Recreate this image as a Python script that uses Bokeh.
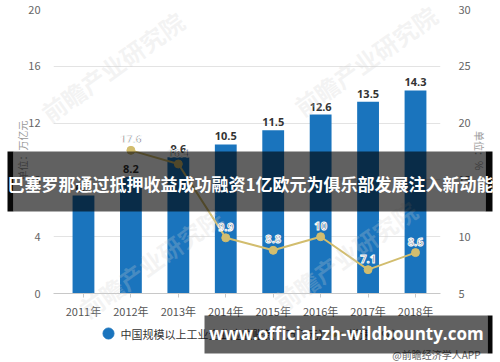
from bokeh.plotting import figure
from bokeh.models import Range1d, LinearAxis, FixedTicker, ColumnDataSource, Column
from bokeh.core.properties import value
from bokeh.embed import file_html
from bokeh.resources import INLINE
import math

# ---- data ----
years = ["2011年", "2012年", "2013年", "2014年", "2015年", "2016年", "2017年", "2018年"]
receivables = [6.9, 8.2, 9.6, 10.5, 11.5, 12.6, 13.5, 14.3]          # 万亿元
growth_years = ["2012年", "2013年", "2014年", "2015年", "2016年", "2017年", "2018年"]
growth = [17.6, 16.4, 9.9, 8.8, 10.0, 7.1, 8.6]                      # %
left_ticks = [0, 4, 8, 12, 16, 20]
right_ticks = [5, 10, 15, 20, 25, 30]

series_name_1 = "中国规模以上工业企业应收账款（万亿元）"
series_name_2 = "增速（%）"
left_unit = "单位：万亿元"
right_unit = "单位：%"
headline = "巴塞罗那通过抵押收益成功融资1亿欧元为俱乐部发展注入新动能"
url_text = "www.official-zh-wildbounty.com"
source_text = "@前瞻经济学人APP"
watermark = "前瞻产业研究院"

BAR = "#1a74bd"
LINE = "#d2bd6e"
CJK = "Noto Sans CJK SC"
W, H = 500, 362

xs = list(range(len(years)))
gx = [years.index(y) for y in growth_years]

# ================= main chart =================
p = figure(width=W, height=H, output_backend="svg", toolbar_location=None,
           x_range=Range1d(-0.632, 7.527), y_range=Range1d(0, 20),
           min_border_left=53, min_border_right=60, min_border_top=9,
           min_border_bottom=69, outline_line_color=None, frame_align=False,
           styles={"flex-shrink": "0"})
p.extra_y_ranges = {"g": Range1d(5, 30)}

p.xgrid.grid_line_color = None
p.ygrid.ticker = FixedTicker(ticks=left_ticks)
p.ygrid.grid_line_color = "#e3e3e3"

xa = p.xaxis[0]
xa.ticker = FixedTicker(ticks=xs)
xa.major_label_overrides = {i: years[i] for i in xs}
xa.axis_line_color = "#c8c8c8"
xa.major_tick_line_color = "#c8c8c8"
xa.major_tick_out = 4
xa.major_tick_in = 0
xa.minor_tick_line_color = None
xa.major_label_text_font = CJK
xa.major_label_text_font_size = "11px"
xa.major_label_text_color = "#555555"
xa.major_label_standoff = 5

ya = p.yaxis[0]
ya.ticker = FixedTicker(ticks=left_ticks)
ya.axis_line_color = None
ya.major_tick_line_color = None
ya.minor_tick_line_color = None
ya.major_label_text_font = CJK
ya.major_label_text_font_size = "11px"
ya.major_label_text_color = "#666666"
ya.major_label_standoff = 7

ra = LinearAxis(y_range_name="g", ticker=FixedTicker(ticks=right_ticks))
ra.axis_line_color = None
ra.major_tick_line_color = None
ra.minor_tick_line_color = None
ra.major_label_text_font = CJK
ra.major_label_text_font_size = "11px"
ra.major_label_text_color = "#666666"
ra.major_label_standoff = 12
p.add_layout(ra, "right")

# bars
src = ColumnDataSource(dict(x=xs, top=receivables,
                            lbl=[f"{v:g}" for v in receivables]))
p.vbar(x="x", top="top", width=0.46, source=src, fill_color=BAR, line_color=None)
p.text(x="x", y="top", text="lbl", source=src, y_offset=-4,
       text_font=value("Open Sans"), text_font_size="11px", text_font_style="bold",
       text_color="#333333", text_align="center", text_baseline="bottom")

# growth line
gsrc = ColumnDataSource(dict(x=gx, y=growth, lbl=[f"{v:g}" for v in growth]))
p.line(x="x", y="y", source=gsrc, y_range_name="g", line_color=LINE, line_width=2)
p.scatter(x="x", y="y", source=gsrc, y_range_name="g", size=8,
          fill_color=LINE, line_color=LINE)
p.text(x="x", y="y", text="lbl", source=gsrc, y_range_name="g", y_offset=-7,
       text_font=value("Open Sans"), text_font_size="11px", text_font_style="bold",
       text_color="#3b4550", text_outline_color="white", text_align="center",
       text_baseline="bottom")

# ================= overlay layer (canvas pixel coordinates) =================
o = figure(width=W, height=H, output_backend="svg", toolbar_location=None,
           x_range=Range1d(0, W), y_range=Range1d(H, 0),
           x_axis_location=None, y_axis_location=None, min_border=0,
           outline_line_color=None, background_fill_alpha=0, border_fill_alpha=0,
           margin=(-H, 0, 0, 0), frame_align=False)
o.grid.visible = False

# faint watermarks
o.text(x=[112, 365, 150, 345], y=[66, 60, 262, 255], text=[watermark] * 4,
       angle=0.62, text_font=value(CJK), text_font_size="24px", text_font_style="bold",
       text_color="#d0d0d0", text_alpha=0.25, text_align="center",
       text_baseline="middle")

# unit labels
o.text(x=[22], y=[150], text=[left_unit], angle=math.pi / 2, text_font=value(CJK),
       text_font_size="10px", text_color="#999999", text_align="center",
       text_baseline="middle")
o.text(x=[479], y=[150], text=[right_unit], angle=-math.pi / 2, text_font=value(CJK),
       text_font_size="10px", text_color="#999999", text_align="center",
       text_baseline="middle")

# legend (drawn in the overlay layer)
o.scatter(x=[108], y=[333], marker="circle", size=11, fill_color=BAR, line_color=BAR)
o.text(x=[120], y=[333], text=[series_name_1], text_font=value(CJK),
       text_font_size="11px", text_color="#333333", text_align="left",
       text_baseline="middle")
o.line(x=[323, 343], y=[333, 333], line_color=LINE, line_width=2)
o.scatter(x=[333], y=[333], marker="circle", size=7, fill_color=LINE, line_color=LINE)
o.text(x=[348], y=[333], text=[series_name_2], text_font=value(CJK),
       text_font_size="11px", text_color="#333333", text_align="left",
       text_baseline="middle")

# source note
o.text(x=[480], y=[354], text=[source_text], text_font=value(CJK),
       text_font_size="10px", text_color="#666666", text_align="right",
       text_baseline="middle")

# banners
o.quad(left=[13, 7, 485, 204, 487], right=[485, 13, 492, 487, 492],
       top=[151, 151, 151, 315, 315], bottom=[211, 211, 211, 353, 353],
       fill_color="black", fill_alpha=[0.62, 0.97, 0.97, 0.62, 0.97], line_color=None)
o.text(x=[250], y=[183], text=[headline], text_font=value(CJK), text_font_size="17px",
       text_font_style="bold", text_color="white", text_align="center",
       text_baseline="middle")
o.text(x=[346], y=[333], text=[url_text], text_font=value("Open Sans"),
       text_font_size="17px", text_font_style="bold", text_color="white",
       text_align="center", text_baseline="middle")

layout = Column(p, o, spacing=0)
open("out.html", "w").write(file_html(layout, INLINE))
